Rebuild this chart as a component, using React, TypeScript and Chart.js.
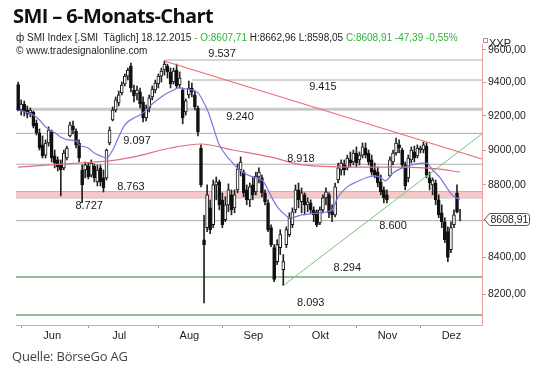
import React, { useEffect, useRef } from 'react';
import { Chart, registerables } from 'chart.js';
Chart.register(...registerables);

// Daily candles, 29.05.2015 - 18.12.2015 (trading-day index 0..145)
const opens = [9388,9235,9271,9235,9217,9223,9158,9100,9030,8971,9041,9106,8966,8943,8914,8897,8954,9082,9141,9111,9041,8885,8885,8908,8856,8908,8817,8897,8840,8840,9041,9176,9235,9277,9337,9391,9439,9500,9355,9331,9343,9283,9188,9247,9313,9355,9391,9439,9476,9500,9464,9403,9476,9385,9355,9223,9325,9367,9325,9247,9012,8495,8561,8671,8577,8800,8817,8716,8605,8688,8744,8671,8772,8885,8873,8772,8716,8800,8761,8845,8840,8755,8699,8561,8452,8376,8452,8333,8468,8523,8577,8660,8772,8705,8744,8688,8699,8660,8649,8588,8660,8727,8744,8649,8632,8828,8885,8914,8897,8943,8931,8983,8943,8971,9012,8983,8943,8885,8873,8817,8772,8744,8851,8931,8983,9030,9000,8914,8840,8943,8989,8966,9000,9000,9023,8840,8800,8811,8716,8643,8594,8539,8441,8577,8755,8607.71];
const highs = [9403,9295,9289,9259,9247,9229,9176,9123,9082,9059,9135,9117,9000,8960,8943,9000,9023,9164,9170,9123,9059,8914,8931,8925,8943,8920,8914,8914,8885,9006,9135,9253,9313,9349,9403,9452,9488,9518,9385,9379,9367,9313,9265,9325,9379,9415,9452,9488,9531,9512,9488,9488,9512,9464,9367,9301,9409,9397,9349,9259,9030,8630,8800,8716,8828,8845,8828,8755,8733,8806,8772,8772,8920,8960,8885,8800,8811,8845,8873,8897,8856,8772,8716,8577,8468,8495,8550,8414,8566,8643,8671,8800,8811,8783,8755,8727,8716,8677,8660,8677,8744,8783,8755,8688,8811,8925,8943,8943,8971,8989,9000,9018,8989,9041,9041,9000,8971,8925,8902,8856,8789,8772,8960,9000,9070,9059,9012,8931,8971,9018,9023,9030,9023,9047,9041,8873,8840,8828,8744,8688,8616,8566,8594,8660,8800,8662.96];
const lows = [9229,9205,9200,9188,9194,9129,9088,9000,8954,8954,9023,8931,8897,8879,8738,8885,8943,9076,9094,9012,8931,8700,8840,8834,8845,8817,8794,8794,8760,8828,9030,9170,9223,9259,9325,9379,9415,9343,9283,9295,9247,9164,9170,9223,9295,9337,9367,9403,9445,9427,9367,9391,9367,9367,9153,9205,9307,9313,9235,9082,8789,8156,8539,8528,8561,8716,8660,8561,8594,8649,8632,8643,8755,8851,8733,8688,8677,8716,8744,8811,8733,8688,8539,8457,8269,8360,8414,8248,8452,8512,8561,8643,8671,8643,8632,8649,8643,8594,8566,8577,8643,8688,8616,8594,8621,8811,8856,8856,8885,8902,8914,8902,8914,8954,8954,8914,8856,8840,8789,8744,8699,8699,8845,8914,8971,8983,8897,8772,8817,8925,8931,8954,8983,8983,8840,8772,8744,8688,8616,8561,8479,8376,8425,8561,8643,8598.05];
const closes = [9235,9271,9223,9211,9235,9141,9100,9012,8966,9041,9117,8954,8925,8902,8885,8983,9012,9147,9117,9030,8954,8800,8914,8845,8925,8840,8885,8817,8783,9000,9117,9235,9295,9325,9385,9439,9476,9367,9319,9355,9271,9188,9247,9307,9361,9397,9439,9470,9512,9464,9391,9470,9379,9427,9188,9290,9367,9343,9253,9106,8800,8468,8744,8550,8800,8817,8688,8577,8688,8772,8660,8744,8891,8931,8755,8716,8789,8744,8851,8873,8755,8705,8550,8468,8280,8468,8523,8376,8550,8616,8649,8772,8716,8755,8688,8705,8660,8632,8577,8660,8727,8761,8643,8632,8789,8897,8925,8885,8954,8925,8983,8925,8971,9018,8971,8931,8873,8856,8811,8761,8727,8716,8943,8983,9041,9012,8914,8794,8954,9000,8954,9012,9012,9030,8856,8811,8828,8716,8632,8594,8495,8398,8561,8632,8649,8608.91];

const monthLabels = ['Jun', 'Jul', 'Aug', 'Sep', 'Okt', 'Nov', 'Dez'];
const monthStartIndex = [1, 23, 46, 67, 89, 111, 132];
const yTickValues = [8200, 8400, 8600, 8800, 9000, 9200, 9400, 9600];

// Moving averages: [trading-day index, value]
const maFast = [[0,9235],[5,9205],[7,9176],[9,9135],[12,9100],[14.5,9070],[16.5,9059],[19,9053],[20,9030],[23,9012],[25,8983],[27,8966],[29,8954],[31,9000],[33,9076],[35,9147],[38,9188],[40,9205],[42,9235],[44,9271],[46.5,9307],[49,9337],[51,9355],[52.5,9367],[55,9361],[57,9355],[59,9337],[60.5,9295],[62.5,9217],[64,9135],[66,9030],[69.5,8943],[73.5,8873],[78,8840],[80,8828],[81.7,8783],[83.3,8727],[85.3,8671],[87.6,8632],[89,8616],[91,8621],[93,8632],[96,8638],[99,8643],[103,8660],[105,8733],[108,8789],[111,8817],[115,8845],[117,8851],[119,8840],[120.4,8823],[123,8868],[126,8897],[129,8914],[132.5,8925],[134,8925],[136,8885],[138.5,8840],[140.7,8783],[142.4,8744],[145,8716]];
const maSlow = [[0,8902],[10.5,8914],[25,8931],[30,8937],[38,8960],[50,9012],[60,9035],[70.5,9000],[82.7,8960],[93.5,8914],[110,8902],[126.3,8902],[137.5,8891],[145,8873]];

const downTrend = [[48, 9531], [152.2, 8948]];
const upTrend = [[87, 8248], [152.2, 9094]];

const levelValues = [9537, 9415, 9240, 9097, 8918, 8763, 8727, 8600, 8294, 8093];
const levelStart = [48, 57, -0.7, -0.7, -0.7, -0.7, -0.7, -0.7, -0.7, -0.7];
const levelLabelAt = [66.9, 100, 72.8, 39, 92.8, 37, 23.3, 123, 108, 96];
const levelLabelDy = [-6, 7, 8, 7.5, -5.5, -5, 8, 5, -9, -12];

const X_MIN = -0.7;
const X_MAX = 152.2;

function fmtLevel(v: number) {
  const s = String(Math.round(v));
  return s.slice(0, s.length - 3) + '.' + s.slice(-3);
}
function fmtAxis(v: number) {
  return Number(v).toFixed(2).replace('.', ',');
}

const FONT = "'Liberation Sans', Arial, sans-serif";

export default function App() {
  const ref = useRef<HTMLCanvasElement>(null);

  useEffect(() => {
    const canvas = ref.current!;
    const levelColor = (v: number) => (v === 8294 || v === 8093 ? 'rgba(140,180,140,0.9)' : v === 9240 ? '#c9c9c9' : '#ababab');
    const levelWidth = (v: number) => (v === 8294 || v === 8093 ? 2 : v === 9240 ? 3 : 1);

    const levelSets: any[] = levelValues.map((v, k) => ({
      type: 'line',
      data: [{ x: levelStart[k], y: v }, { x: X_MAX, y: v }],
      borderColor: v === 8763 ? 'rgba(240,150,150,0.9)' : levelColor(v),
      borderWidth: levelWidth(v),
      pointRadius: 0,
      fill: v === 8763 ? '+1' : false,
      backgroundColor: 'rgba(247,190,190,0.85)',
      order: 20,
    }));

    const labelPlugin = {
      id: 'levelLabels',
      afterDatasetsDraw(c: any) {
        const ctx = c.ctx;
        const xs = c.scales.x;
        const ys = c.scales.y;
        ctx.save();
        ctx.font = `11px ${FONT}`;
        ctx.fillStyle = '#1a1a1a';
        ctx.textAlign = 'center';
        ctx.textBaseline = 'middle';
        levelValues.forEach((v, k) => {
          ctx.fillText(fmtLevel(v), xs.getPixelForValue(levelLabelAt[k]), ys.getPixelForValue(v) + levelLabelDy[k]);
        });
        ctx.restore();
      },
      afterDraw(c: any) {
        const ctx = c.ctx;
        const ys = c.scales.y;
        const area = c.chartArea;
        const last = closes[closes.length - 1];
        const y = Math.round(ys.getPixelForValue(last)) + 0.5;
        const x0 = area.right + 2.5;
        ctx.save();
        ctx.beginPath();
        ctx.moveTo(x0, y);
        ctx.lineTo(x0 + 5, y - 6);
        ctx.lineTo(x0 + 42, y - 6);
        ctx.quadraticCurveTo(x0 + 45, y - 6, x0 + 45, y - 3);
        ctx.lineTo(x0 + 45, y + 3);
        ctx.quadraticCurveTo(x0 + 45, y + 6, x0 + 42, y + 6);
        ctx.lineTo(x0 + 5, y + 6);
        ctx.closePath();
        ctx.fillStyle = '#ffffff';
        ctx.fill();
        ctx.strokeStyle = '#555';
        ctx.lineWidth = 1;
        ctx.stroke();
        ctx.font = `10.5px ${FONT}`;
        ctx.fillStyle = '#222';
        ctx.textAlign = 'left';
        ctx.textBaseline = 'middle';
        ctx.fillText(fmtAxis(last), x0 + 6, y + 0.5);
        // header of the price axis
        ctx.font = `11px ${FONT}`;
        ctx.fillText('XXP', area.right + 7, area.top);
        ctx.strokeStyle = '#999';
        ctx.strokeRect(area.right + 1.5, area.top - 5.5, 4, 4);
        ctx.restore();
      },
    };

    const chart = new Chart(canvas, {
      type: 'bar',
      data: {
        datasets: [
          ...levelSets,
          {
            type: 'bar',
            data: closes.map((c, i) => ({ x: i, y: [lows[i], highs[i]] })),
            backgroundColor: '#222',
            borderWidth: 0,
            barThickness: 1,
            grouped: false,
            order: 10,
          } as any,
          {
            type: 'bar',
            data: closes.map((c, i) => ({ x: i, y: [opens[i], c] })),
            backgroundColor: closes.map((c, i) => (c >= opens[i] ? '#ffffff' : '#111111')),
            borderColor: '#111',
            borderWidth: 1,
            borderSkipped: false,
            barThickness: 3,
            grouped: false,
            order: 9,
          } as any,
          {
            type: 'line',
            data: maSlow.map(([x, y]) => ({ x, y })),
            borderColor: 'rgb(228,110,125)',
            borderWidth: 1.2,
            pointRadius: 0,
            cubicInterpolationMode: 'monotone',
            order: 3,
          } as any,
          {
            type: 'line',
            data: maFast.map(([x, y]) => ({ x, y })),
            borderColor: 'rgb(118,118,228)',
            borderWidth: 1.2,
            pointRadius: 0,
            cubicInterpolationMode: 'monotone',
            order: 2,
          } as any,
          {
            type: 'line',
            data: downTrend.map(([x, y]) => ({ x, y })),
            borderColor: 'rgb(235,105,115)',
            borderWidth: 1.2,
            pointRadius: 0,
            order: 1,
          } as any,
          {
            type: 'line',
            data: upTrend.map(([x, y]) => ({ x, y })),
            borderColor: 'rgb(120,195,120)',
            borderWidth: 1,
            pointRadius: 0,
            order: 1,
          } as any,
        ],
      },
      options: {
        responsive: false,
        devicePixelRatio: 1,
        animation: false,
        layout: { padding: { left: 16, top: 44, right: 0, bottom: 36 } },
        plugins: { legend: { display: false }, tooltip: { enabled: false } },
        scales: {
          x: {
            type: 'linear',
            offset: false,
            min: X_MIN,
            max: X_MAX,
            afterBuildTicks: (s: any) => {
              s.ticks = monthStartIndex.map((v) => ({ value: v }));
            },
            afterFit: (s: any) => {
              s.height = 20;
            },
            ticks: {
              autoSkip: false,
              maxRotation: 0,
              labelOffset: 31,
              padding: 1,
              color: '#222',
              font: { family: FONT, size: 11 },
              callback: (v: any) => monthLabels[monthStartIndex.indexOf(Number(v))] ?? '',
            },
            grid: { offset: false, drawOnChartArea: false, drawTicks: true, tickLength: 3, color: '#999' },
            border: { display: true, color: 'rgb(240,160,160)', width: 1 },
          },
          y: {
            type: 'logarithmic',
            position: 'right',
            min: 8041,
            max: 9636,
            afterBuildTicks: (s: any) => {
              s.ticks = yTickValues.map((v) => ({ value: v }));
            },
            afterFit: (s: any) => {
              s.width = 58;
            },
            ticks: {
              padding: 2,
              color: '#222',
              font: { family: FONT, size: 10.5 },
              callback: (v: any) => fmtAxis(Number(v)),
            },
            grid: { drawOnChartArea: false, drawTicks: true, tickLength: 4, color: 'rgb(240,140,140)' },
            border: { display: true, color: 'rgb(240,160,160)', width: 1 },
          },
        },
      } as any,
      plugins: [labelPlugin],
    });
    return () => chart.destroy();
  }, []);

  return (
    <div style={{ position: 'absolute', left: 0, top: 0, width: 540, height: 381, background: '#fff', overflow: 'hidden' }}>
      <canvas ref={ref} width={540} height={381} style={{ position: 'absolute', left: 0, top: 0, width: 540, height: 381 }} />
      <div style={{ position: 'absolute', left: 13, top: 2, fontFamily: "'Open Sans', sans-serif", fontWeight: 700, fontSize: 20, color: '#111', whiteSpace: 'nowrap', letterSpacing: -0.6 }}>
        SMI – 6-Monats-Chart
      </div>
      <div style={{ position: 'absolute', left: 16, top: 32, fontFamily: FONT, fontSize: 10, color: '#222', whiteSpace: 'nowrap' }}>
        ф SMI Index [.SMI&nbsp; Täglich] 18.12.2015 <span style={{ color: '#2fb33a' }}>- O:8607,71</span> H:8662,96 L:8598,05 <span style={{ color: '#2fb33a' }}>C:8608,91 -47,39 -0,55%</span>
      </div>
      <div style={{ position: 'absolute', left: 16, top: 45, fontFamily: FONT, fontSize: 10, color: '#222', whiteSpace: 'nowrap' }}>
        © www.tradesignalonline.com
      </div>
      <div style={{ position: 'absolute', left: 12, top: 347, fontFamily: "'Open Sans', sans-serif", fontSize: 13, color: '#444', whiteSpace: 'nowrap', letterSpacing: -0.2 }}>
        Quelle: BörseGo AG
      </div>
    </div>
  );
}
